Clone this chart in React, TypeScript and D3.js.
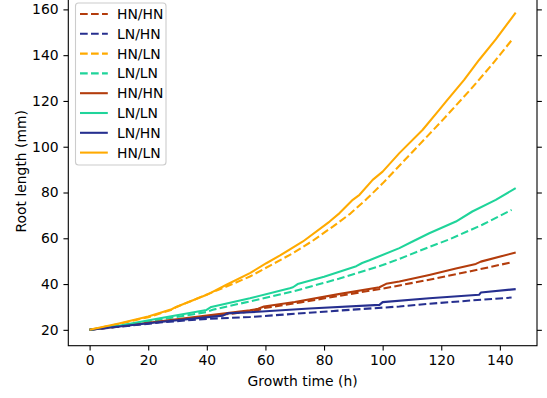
import React, { useRef, useEffect } from 'react';
import * as d3 from 'd3';

type Pt = [number, number];

// growth time (h), root length (mm)
const hnhnDashed: Pt[] = [[0, 20], [20, 22.9], [40, 25.8], [54.7, 28.0], [58, 28.8], [59.5, 29.5], [72, 32.0], [88.7, 35.6], [100, 38.0], [115.9, 41.9], [130, 45.6], [144, 49.5]];
const lnhnDashed: Pt[] = [[0, 20], [24, 23.2], [40, 24.8], [54.7, 25.6], [70, 27.0], [85, 28.4], [105.7, 30.2], [115.9, 31.4], [130, 32.8], [144, 34.1]];
const hnlnDashed: Pt[] = [[0, 20], [10, 22.6], [20, 25.5], [28.5, 29.0], [29.7, 30.0], [38, 34.4], [46.7, 38.9], [54.7, 43.3], [59.2, 46.4], [69.4, 53.5], [76, 58.8], [83, 65.1], [89, 70.8], [94.4, 77.0], [100, 84.0], [110, 97.5], [120, 111.0], [130, 125.0], [137.4, 136.0], [144, 146.5]];
const lnlnDashed: Pt[] = [[0, 20], [20, 23.6], [40, 27.8], [42, 28.8], [55, 32.5], [70, 37.0], [85, 42.3], [100, 48.3], [105.7, 51.0], [115.9, 56.2], [122.7, 59.5], [134, 65.9], [144, 72.4]];

const hnhnSolid: Pt[] = [[0, 20], [20, 23.1], [40, 26.2], [54.7, 28.5], [57.5, 29.2], [59.5, 30.2], [70, 32.2], [85, 35.6], [98.9, 38.6], [101.2, 40.1], [105.7, 41.1], [115.9, 44.0], [125, 46.8], [131.8, 48.8], [133.5, 49.8], [145.4, 53.8]];
const lnlnSolid: Pt[] = [[0, 20], [10, 21.8], [24, 25.1], [39.9, 28.7], [41.5, 30.0], [54.7, 33.8], [68.3, 38.2], [69.4, 38.6], [71, 40.0], [80, 43.2], [91, 47.8], [93, 49.2], [95.5, 50.4], [105.7, 55.7], [110.2, 58.6], [115.9, 62.2], [125, 67.3], [130.6, 71.7], [138.6, 76.8], [145.4, 81.9]];
const lnhnSolid: Pt[] = [[0, 20], [24, 23.4], [45.5, 26.2], [47, 27.2], [54.7, 27.7], [75, 29.3], [98.9, 30.9], [100, 32.1], [115.9, 33.8], [132.9, 35.3], [133.5, 36.3], [145.4, 37.8]];
const hnlnSolid: Pt[] = [[0, 20], [10, 22.8], [20, 25.8], [28, 29.0], [29.5, 30.0], [40, 35.3], [46.7, 39.7], [54.7, 44.8], [60.3, 49.1], [65, 52.5], [72.8, 58.6], [81.9, 67.3], [85.3, 71.0], [89.8, 76.8], [92.1, 79.0], [96.6, 85.5], [100, 89.1], [105.7, 97.2], [113.6, 107.3], [119.3, 116.1], [121.6, 119.7], [127.8, 129.2], [132.9, 137.9], [138.6, 146.9], [145.4, 158.6]];

const xTicks = [0, 20, 40, 60, 80, 100, 120, 140];
const yTicks = [20, 40, 60, 80, 100, 120, 140, 160];

const BROWN = '#b33c0c';
const NAVY = '#262f8f';
const ORANGE = '#ffaa00';
const TEAL = '#1fd49a';

const series = [
  { label: 'HN/HN', color: BROWN, dashed: true, data: hnhnDashed },
  { label: 'LN/HN', color: NAVY, dashed: true, data: lnhnDashed },
  { label: 'HN/LN', color: ORANGE, dashed: true, data: hnlnDashed },
  { label: 'LN/LN', color: TEAL, dashed: true, data: lnlnDashed },
  { label: 'HN/HN', color: BROWN, dashed: false, data: hnhnSolid },
  { label: 'LN/LN', color: TEAL, dashed: false, data: lnlnSolid },
  { label: 'LN/HN', color: NAVY, dashed: false, data: lnhnSolid },
  { label: 'HN/LN', color: ORANGE, dashed: false, data: hnlnSolid },
];

const FONT = '"DejaVu Sans", sans-serif';

const App: React.FC = () => {
  const svgRef = useRef<SVGSVGElement>(null);
  const width = 547;
  const height = 398;

  useEffect(() => {
    if (!svgRef.current) return;
    const svg = d3.select(svgRef.current);
    svg.selectAll('*').remove();

    const left = 68.3, right = 537, top = -3.2, bottom = 345.7;

    const x = d3.scaleLinear().domain([-7.27, 152.67]).range([left, right]);
    const y = d3.scaleLinear().domain([13.07, 165.5]).range([bottom, top]);

    const clip = svg.append('defs').append('clipPath').attr('id', 'plot-clip');
    clip.append('rect').attr('x', left).attr('y', top).attr('width', right - left).attr('height', bottom - top);

    // Lines
    const line = d3.line<Pt>().x(d => x(d[0])).y(d => y(d[1]));
    const lines = svg.append('g').attr('clip-path', 'url(#plot-clip)');
    series.forEach(s => {
      lines.append('path')
        .datum(s.data)
        .attr('d', line)
        .attr('fill', 'none')
        .attr('stroke', s.color)
        .attr('stroke-width', 2.08)
        .attr('stroke-dasharray', s.dashed ? '7.7,3.3' : null)
        .attr('stroke-linejoin', 'round');
    });

    // Axes
    const styleAxis = (g: d3.Selection<SVGGElement, unknown, null, undefined>) => {
      g.select('.domain').remove();
      g.selectAll('line').attr('stroke', '#000').attr('stroke-width', 1.1);
      g.selectAll('text').attr('font-family', FONT).attr('font-size', '13.9px').attr('fill', '#000');
    };

    svg.append('g')
      .attr('transform', `translate(0,${bottom})`)
      .call(d3.axisBottom(x).tickValues(xTicks).tickSize(4.86).tickPadding(4.86).tickFormat(d3.format('d')))
      .call(styleAxis);

    svg.append('g')
      .attr('transform', `translate(${left},0)`)
      .call(d3.axisLeft(y).tickValues(yTicks).tickSize(4.86).tickPadding(4.86).tickFormat(d3.format('d')))
      .call(styleAxis);

    svg.append('g')
      .attr('transform', `translate(${right},0)`)
      .call(d3.axisRight(y).tickValues(yTicks).tickSize(4.86).tickFormat(() => ''))
      .call(styleAxis);

    // Spines
    svg.append('rect')
      .attr('x', left)
      .attr('y', top)
      .attr('width', right - left)
      .attr('height', bottom - top)
      .attr('fill', 'none')
      .attr('stroke', '#000')
      .attr('stroke-width', 1.1);

    // Axis labels
    svg.append('text')
      .attr('x', (left + right) / 2)
      .attr('y', 386)
      .attr('text-anchor', 'middle')
      .attr('font-family', FONT)
      .attr('font-size', '13.9px')
      .text('Growth time (h)');

    svg.append('text')
      .attr('transform', `translate(26,${(top + bottom) / 2}) rotate(-90)`)
      .attr('text-anchor', 'middle')
      .attr('font-family', FONT)
      .attr('font-size', '13.9px')
      .text('Root length (mm)');

    // Legend
    const legend = svg.append('g');
    legend.append('rect')
      .attr('x', 75.5)
      .attr('y', 3)
      .attr('width', 90.5)
      .attr('height', 162)
      .attr('rx', 3)
      .attr('fill', '#fff')
      .attr('fill-opacity', 0.8)
      .attr('stroke', '#cccccc')
      .attr('stroke-width', 1.1);

    series.forEach((s, i) => {
      const ly = 14 + i * 19.8;
      legend.append('line')
        .attr('x1', 80)
        .attr('x2', 107.8)
        .attr('y1', ly)
        .attr('y2', ly)
        .attr('stroke', s.color)
        .attr('stroke-width', 2.08)
        .attr('stroke-dasharray', s.dashed ? '7.7,3.3' : null);
      legend.append('text')
        .attr('x', 117)
        .attr('y', ly + 5)
        .attr('font-family', FONT)
        .attr('font-size', '13.9px')
        .attr('fill', '#000')
        .text(s.label);
    });
  }, []);

  return (
    <svg
      ref={svgRef}
      width={width}
      height={height}
      style={{ position: 'absolute', left: 0, top: 0, background: '#fff' }}
    />
  );
};

export default App;
